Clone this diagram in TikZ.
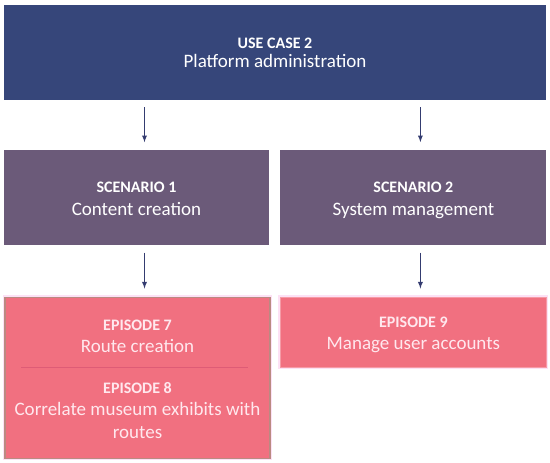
\documentclass[tikz,border=0pt]{standalone}
\usepackage{fontspec}
\setmainfont{Carlito}
\usepackage{xcolor}
\usepackage{tikz}
\usetikzlibrary{arrows, positioning}

\definecolor{ucblue}{RGB}{54,70,122}
\definecolor{scpurple}{RGB}{107,90,121}
\definecolor{eppink}{RGB}{241,112,128}
\definecolor{epline}{RGB}{222,92,118}
\definecolor{epedge}{RGB}{186,138,130}
\definecolor{ephalo}{RGB}{253,225,245}
\definecolor{eptext}{RGB}{255,232,238}
\definecolor{arrowblue}{RGB}{52,60,112}

\newcommand{\boxhead}[1]{\textbf{\fontsize{16}{22.4}\selectfont #1}}

\begin{document}
\begin{tikzpicture}[
    usecase/.style={rectangle, fill=ucblue, minimum width=542pt, minimum height=95pt, inner sep=0pt},
    scenario/.style={rectangle, fill=scpurple, minimum width=265pt, minimum height=95pt, inner sep=0pt},
    episode/.style={rectangle, fill=eppink, draw=epedge, line width=1.2pt, preaction={draw=ephalo, line width=4pt}, minimum width=265pt, inner sep=0pt},
    boxtext/.style={align=center, text=white, inner sep=0pt, font=\fontsize{19}{22.4}\selectfont},
    eptitle/.style={align=center, text=eptext, inner sep=0pt, font=\fontsize{19}{22.4}\selectfont},
    arrow/.style={line width=1.3pt, ->, >=latex, arrowblue, shorten <=7pt, shorten >=8pt}
]
    \useasboundingbox (0,0) rectangle (550pt,-463pt);

    % Use case
    \node (uc) [usecase] at (275pt,-52.5pt) {};
    \node (uc_lbl) [boxtext, font=\fontsize{19}{19}\selectfont, below=32.6pt of uc.north] {\textbf{\fontsize{16}{19}\selectfont USE CASE 2}\\Platform administration};

    % Scenarios
    \node (sc1) [scenario, below=50pt of uc.south west, anchor=north west] {};
    \node (sc1_lbl) [boxtext, below=32pt of sc1.north] {\boxhead{SCENARIO 1}\\Content creation};
    \node (sc2) [scenario, right=11pt of sc1, minimum width=266pt] {};
    \node (sc2_lbl) [boxtext, below=32pt of sc2.north] {\boxhead{SCENARIO 2}\\System management};

    % Episodes
    \node (ep1) [episode, below=51pt of sc1, minimum height=161pt, xshift=1pt] {};
    \node (ep7_lbl) [eptitle, below=23pt of ep1.north] {\boxhead{EPISODE 7}\\Route creation};
    \node (ep8_lbl) [eptitle, below=85.6pt of ep1.north] {\boxhead{EPISODE 8}\\Correlate museum exhibits with\\routes};
    \draw [epline, line width=1pt] ([xshift=17pt,yshift=-71pt]ep1.north west) -- ([xshift=-23pt,yshift=-71pt]ep1.north east);
    \node (ep9) [episode, draw=eppink!70!white, line width=0.8pt, below=51pt of sc2, minimum height=70pt, minimum width=266pt] {};
    \node (ep9_lbl) [eptitle, below=20pt of ep9.north] {\boxhead{EPISODE 9}\\Manage user accounts};

    % Arrows
    \draw [arrow] ([xshift=8pt]sc1.north |- uc.south) -- ([xshift=8pt]sc1.north);
    \draw [arrow] ([xshift=7pt]sc2.north |- uc.south) -- ([xshift=7pt]sc2.north);
    \draw [arrow] ([xshift=8pt]sc1.south) -- ([xshift=8pt]sc1.south |- ep1.north);
    \draw [arrow] ([xshift=7pt]sc2.south) -- ([xshift=7pt]sc2.south |- ep9.north);

\end{tikzpicture}
\end{document}
